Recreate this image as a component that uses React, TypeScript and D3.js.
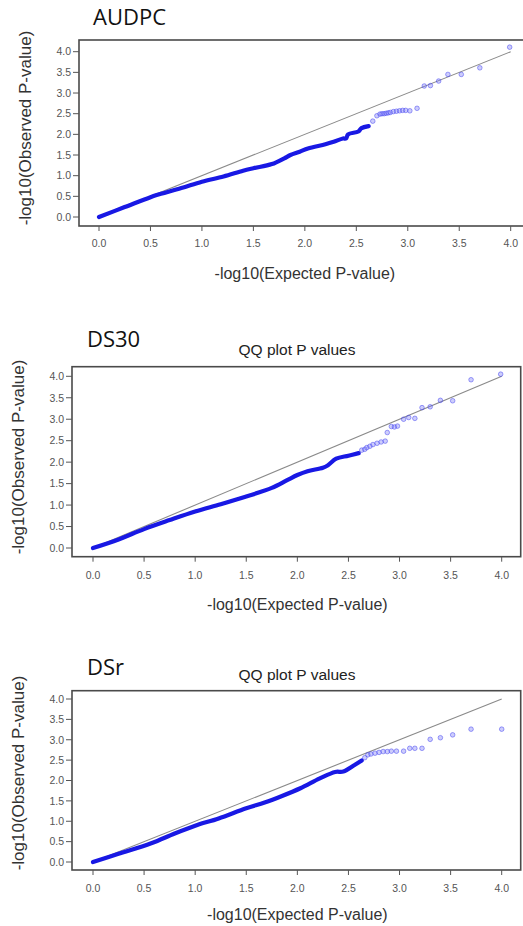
import React from "react";
import * as d3 from "d3";

// Shared axis ticks and labels
const TICKS = [0, 0.5, 1, 1.5, 2, 2.5, 3, 3.5, 4];
const TRAITS = ["AUDPC", "DS30", "DSr"];
const SUBTITLE = "QQ plot P values";
const X_TITLE = "-log10(Expected P-value)";
const Y_TITLE = "-log10(Observed P-value)";

// AUDPC: dense body of the QQ cloud (expected, observed)
const audpcBandX = [0, 0.25, 0.5, 0.56, 0.8, 1.0, 1.21, 1.4, 1.5, 1.68, 1.8, 1.86, 1.95, 2.03, 2.2, 2.28, 2.37, 2.4, 2.42, 2.52, 2.55, 2.62];
const audpcBandY = [0, 0.24, 0.48, 0.53, 0.7, 0.855, 0.98, 1.12, 1.18, 1.28, 1.42, 1.5, 1.58, 1.66, 1.76, 1.82, 1.9, 1.9, 2.0, 2.07, 2.15, 2.2];
// AUDPC: sparse upper tail
const audpcTailX = [2.66, 2.7, 2.73, 2.75, 2.77, 2.79, 2.81, 2.83, 2.86, 2.89, 2.92, 2.95, 2.98, 3.02, 3.09, 3.16, 3.22, 3.3, 3.39, 3.52, 3.7, 3.99];
const audpcTailY = [2.32, 2.45, 2.49, 2.5, 2.5, 2.51, 2.52, 2.53, 2.55, 2.56, 2.57, 2.58, 2.58, 2.57, 2.63, 3.17, 3.18, 3.29, 3.45, 3.45, 3.61, 4.11];

// DS30
const ds30BandX = [0, 0.25, 0.5, 0.75, 1.0, 1.25, 1.5, 1.75, 1.9, 2.0, 2.1, 2.25, 2.3, 2.38, 2.5, 2.6];
const ds30BandY = [0, 0.2, 0.44, 0.65, 0.85, 1.02, 1.2, 1.4, 1.58, 1.7, 1.79, 1.87, 1.93, 2.08, 2.15, 2.21];
const ds30TailX = [2.63, 2.66, 2.68, 2.71, 2.74, 2.78, 2.82, 2.86, 2.88, 2.92, 2.95, 2.98, 3.04, 3.09, 3.15, 3.22, 3.3, 3.4, 3.52, 3.7, 3.99];
const ds30TailY = [2.28, 2.3, 2.34, 2.37, 2.41, 2.44, 2.47, 2.49, 2.69, 2.83, 2.82, 2.84, 3.0, 3.04, 3.02, 3.27, 3.29, 3.44, 3.43, 3.92, 4.05];

// DSr
const dsrBandX = [0, 0.25, 0.57, 0.8, 1.0, 1.23, 1.5, 1.68, 1.85, 2.03, 2.22, 2.37, 2.45, 2.56, 2.63];
const dsrBandY = [0, 0.2, 0.46, 0.7, 0.89, 1.07, 1.32, 1.46, 1.62, 1.81, 2.05, 2.21, 2.22, 2.38, 2.49];
const dsrTailX = [2.66, 2.69, 2.72, 2.76, 2.8, 2.84, 2.88, 2.92, 2.97, 3.04, 3.1, 3.15, 3.22, 3.3, 3.4, 3.52, 3.7, 4.0];
const dsrTailY = [2.56, 2.63, 2.65, 2.67, 2.69, 2.71, 2.71, 2.72, 2.72, 2.72, 2.79, 2.79, 2.79, 3.01, 3.05, 3.12, 3.26, 3.26];

const SANS = "'Liberation Sans', Arial, sans-serif";
const TITLE_FONT = "'Open Sans', 'Noto Sans', sans-serif";

type Layout = {
  box: { l: number; t: number; r: number; b: number };
  xr: [number, number];
  yr: [number, number];
  titleX: number;
  titleY: number;
  subtitleY: number | null;
  xLabY: number;
  xTitleY: number;
  yTitleX: number;
  yTitleY: number;
  labRight: number;
};

const layouts: Layout[] = [
  {
    box: { l: 79, t: 40, r: 524, b: 226 },
    xr: [99, 510.7],
    yr: [217, 51.7],
    titleX: 93,
    titleY: 25,
    subtitleY: null,
    xLabY: 247,
    xTitleY: 279,
    yTitleX: 31,
    yTitleY: 128,
    labRight: 71,
  },
  {
    box: { l: 72, t: 366.7, r: 520.7, b: 556.7 },
    xr: [93, 501.7],
    yr: [548, 376.3],
    titleX: 87,
    titleY: 347,
    subtitleY: 355,
    xLabY: 579,
    xTitleY: 610,
    yTitleX: 24,
    yTitleY: 457,
    labRight: 64,
  },
  {
    box: { l: 72, t: 690.7, r: 520.7, b: 870 },
    xr: [93, 501.7],
    yr: [862, 699],
    titleX: 87,
    titleY: 675,
    subtitleY: 680,
    xLabY: 892,
    xTitleY: 920,
    yTitleX: 24,
    yTitleY: 773,
    labRight: 64,
  },
];

const series = [
  { bx: audpcBandX, by: audpcBandY, tx: audpcTailX, ty: audpcTailY },
  { bx: ds30BandX, by: ds30BandY, tx: ds30TailX, ty: ds30TailY },
  { bx: dsrBandX, by: dsrBandY, tx: dsrTailX, ty: dsrTailY },
];

const fmt = d3.format(".1f");

function QQPanel({ idx }: { idx: number }) {
  const L = layouts[idx];
  const s = series[idx];
  const x = d3.scaleLinear().domain([0, 4]).range(L.xr);
  const y = d3.scaleLinear().domain([0, 4]).range(L.yr);
  const band = s.bx.map((v, i) => [v, s.by[i]] as [number, number]);
  const tail = s.tx.map((v, i) => [v, s.ty[i]] as [number, number]);
  const line = d3
    .line<[number, number]>()
    .x((d) => x(d[0]))
    .y((d) => y(d[1]))
    .curve(d3.curveCatmullRom.alpha(0.5));
  const { l, t, r, b } = L.box;
  return (
    <g>
      <text x={L.titleX} y={L.titleY} fontFamily={TITLE_FONT} fontSize={22} fill="#111">
        {TRAITS[idx]}
      </text>
      {L.subtitleY !== null && (
        <text x={297} y={L.subtitleY} textAnchor="middle" fontFamily={SANS} fontSize={15.5} fill="#222">
          {SUBTITLE}
        </text>
      )}
      {/* reference diagonal */}
      <line x1={x(0)} y1={y(0)} x2={x(4)} y2={y(4)} stroke="#8a8a8a" strokeWidth={1.1} />
      {/* dense part of the point cloud */}
      <path d={line(band) || ""} fill="none" stroke="#1818e4" strokeWidth={4.2} strokeLinecap="round" strokeLinejoin="round" />
      {tail.map((d, i) => (
        <circle
          key={i}
          cx={x(d[0])}
          cy={y(d[1])}
          r={2.3}
          fill="#6f6ff5"
          fillOpacity={0.35}
          stroke="#3a3af0"
          strokeOpacity={0.6}
          strokeWidth={0.8}
        />
      ))}
      {/* frame */}
      <rect x={l} y={t} width={r - l} height={b - t} fill="none" stroke="#4a4a4a" strokeWidth={1.6} />
      {/* x axis */}
      {TICKS.map((v) => (
        <g key={"x" + v}>
          <line x1={x(v)} x2={x(v)} y1={b} y2={b + 5} stroke="#555" strokeWidth={1} />
          <text x={x(v)} y={L.xLabY} textAnchor="middle" fontFamily={SANS} fontSize={10.5} fill="#555">
            {fmt(v)}
          </text>
        </g>
      ))}
      {/* y axis */}
      {TICKS.map((v) => (
        <g key={"y" + v}>
          <line x1={l - 6} x2={l} y1={y(v)} y2={y(v)} stroke="#555" strokeWidth={1} />
          <text x={L.labRight} y={y(v)} dy="0.36em" textAnchor="end" fontFamily={SANS} fontSize={10.5} fill="#555">
            {fmt(v)}
          </text>
        </g>
      ))}
      <text x={(L.xr[0] + L.xr[1]) / 2} y={L.xTitleY} textAnchor="middle" fontFamily={SANS} fontSize={16} fill="#333">
        {X_TITLE}
      </text>
      <text
        transform={`translate(${L.yTitleX},${L.yTitleY}) rotate(-90)`}
        textAnchor="middle"
        fontFamily={SANS}
        fontSize={17}
        fill="#333"
      >
        {Y_TITLE}
      </text>
    </g>
  );
}

export default function App() {
  return (
    <svg
      width={523}
      height={926}
      viewBox="0 0 523 926"
      style={{ position: "absolute", left: 0, top: 0, background: "#fff" }}
    >
      <rect width={523} height={926} fill="#fff" />
      {layouts.map((_, i) => (
        <QQPanel key={i} idx={i} />
      ))}
    </svg>
  );
}
